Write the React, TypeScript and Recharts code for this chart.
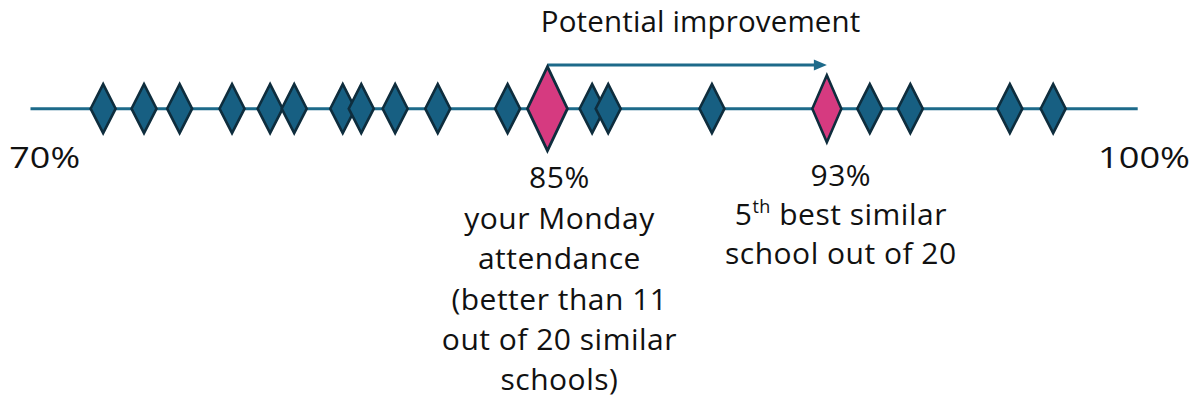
import React from 'react';
import { ScatterChart, Scatter, XAxis, YAxis, ReferenceLine } from 'recharts';

// ---- data ----
const AXIS_MIN = 70.2;
const AXIS_MAX = 101.9;
const endLabels = ['70%', '100%'];

const otherSchools = [
  72.28, 73.45, 74.47, 75.97, 77.06, 77.75, 79.14, 79.67, 80.64, 81.86, 83.86,
  86.28, 86.74, 89.71, 94.23, 95.39, 98.24, 99.48,
];
const yourSchool = 85;
const targetSchool = 93;

const yourLines = ['85%', 'your Monday', 'attendance', '(better than 11', 'out of 20 similar', 'schools)'];
const targetLines = ['93%', '5|th| best similar', 'school out of 20'];
const arrowTitle = 'Potential improvement';

// ---- styles ----
const FONT = '"Open Sans", "Noto Sans", sans-serif';
const TEXT_SIZE = 30;
const LETTER_SPACING = 0.5;
const LINE_COLOR = '#1d6a8a';
const BLUE_FILL = '#175f82';
const DARK_STROKE = '#0e2d3d';
const PINK_FILL = '#d63a80';
const ARROW_Y = 0.434;

const blueData = otherSchools.map((v) => ({ x: v, y: 0 }));
const yourData = [{ x: yourSchool, y: 0 }];
const targetData = [{ x: targetSchool, y: 0 }];

const diamond = (cx: number, cy: number, hw: number, hh: number) =>
  `${cx},${cy - hh} ${cx + hw},${cy} ${cx},${cy + hh} ${cx - hw},${cy}`;

const BlueDiamond = (props: any) => {
  const { cx, cy } = props;
  return (
    <polygon points={diamond(cx, cy, 12.5, 24.5)} fill={BLUE_FILL} stroke={DARK_STROKE} strokeWidth={2.6} strokeLinejoin="miter" />
  );
};

const renderLine = (line: string, key: number, x: number, y: number, size: number) => {
  const parts = line.split('|');
  return (
    <text
      key={key}
      x={x}
      y={y}
      textAnchor="middle"
      fontFamily={FONT}
      fontSize={size}
      letterSpacing={LETTER_SPACING}
      fill="#111"
    >
      {parts.length === 3 ? (
        <>
          <tspan>{parts[0]}</tspan>
          <tspan fontSize={size * 0.6} dy={-size * 0.38}>{parts[1]}</tspan>
          <tspan dy={size * 0.38}>{parts[2]}</tspan>
        </>
      ) : (
        line
      )}
    </text>
  );
};

const YourDiamond = (props: any) => {
  const { cx, cy } = props;
  return (
    <g>
      <polygon points={diamond(cx, cy, 20, 42)} fill={PINK_FILL} stroke={DARK_STROKE} strokeWidth={2.8} />
      {yourLines.map((l, i) => renderLine(l, i, cx + 12, cy + 79.6 + i * 40.4, TEXT_SIZE))}
    </g>
  );
};

const TargetDiamond = (props: any) => {
  const { cx, cy } = props;
  return (
    <g>
      <polygon points={diamond(cx, cy, 14.5, 33.5)} fill={PINK_FILL} stroke={DARK_STROKE} strokeWidth={2.6} />
      {targetLines.map((l, i) => renderLine(l, i, cx + 14, cy + 77 + i * 39, TEXT_SIZE))}
    </g>
  );
};

const EndTick = (props: any) => {
  const { x, y, index } = props;
  const dx = index === 0 ? 14.2 : 6.3;
  const len = index === 0 ? 70.7 : 92;
  return (
    <text
      x={x + dx}
      y={y + 51.3}
      textAnchor="middle"
      fontFamily={FONT}
      fontSize={30}
      fill="#111"
      textLength={len}
      lengthAdjust="spacingAndGlyphs"
    >
      {endLabels[index]}
    </text>
  );
};

const Arrow = (props: any) => {
  const { x1, y1, x2 } = props;
  return (
    <g>
      <line x1={x1} y1={y1} x2={x2 - 11} y2={y1} stroke={LINE_COLOR} strokeWidth={3} />
      <polygon points={`${x2},${y1} ${x2 - 13},${y1 - 5.5} ${x2 - 13},${y1 + 5.5}`} fill={LINE_COLOR} />
      <text
        x={(x1 + x2) / 2 + 13.5}
        y={y1 - 33}
        textAnchor="middle"
        fontFamily={FONT}
        fontSize={29.5}
        letterSpacing={0.15}
        fill="#111"
      >
        {arrowTitle}
      </text>
    </g>
  );
};

export default function App() {
  return (
    <div style={{ position: 'absolute', left: 0, top: 0, width: 1198, height: 402, background: '#fff' }}>
      <ScatterChart width={1198} height={402} margin={{ top: 8, right: 60.3, bottom: 0, left: 30.5 }}>
        <XAxis
          type="number"
          dataKey="x"
          domain={[AXIS_MIN, AXIS_MAX]}
          ticks={[AXIS_MIN, AXIS_MAX]}
          interval={0}
          height={293.3}
          axisLine={{ stroke: LINE_COLOR, strokeWidth: 3 }}
          tickLine={false}
          tick={<EndTick />}
        />
        <YAxis type="number" dataKey="y" domain={[0, 1]} hide width={0} />
        <ReferenceLine
          segment={[
            { x: yourSchool, y: ARROW_Y },
            { x: targetSchool, y: ARROW_Y },
          ]}
          shape={(p: any) => <Arrow {...p} />}
        />
        <Scatter data={blueData} shape={<BlueDiamond />} isAnimationActive={false} />
        <Scatter data={yourData} shape={<YourDiamond />} isAnimationActive={false} />
        <Scatter data={targetData} shape={<TargetDiamond />} isAnimationActive={false} />
      </ScatterChart>
    </div>
  );
}
